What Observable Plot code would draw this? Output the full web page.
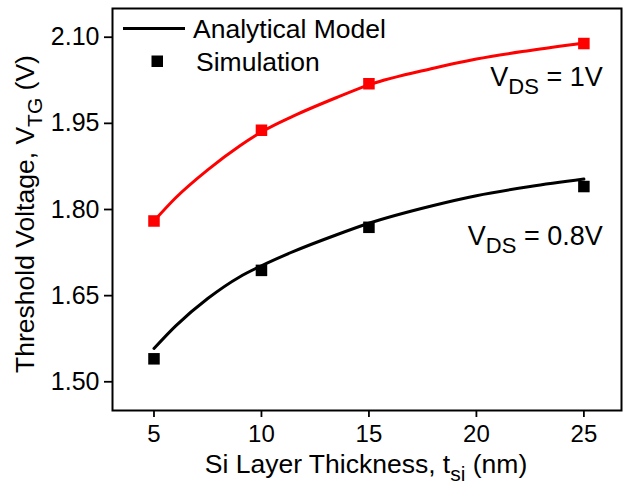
<!DOCTYPE html>
<html><head><meta charset="utf-8">
<script src="https://cdn.jsdelivr.net/npm/d3@7"></script>
<script src="https://cdn.jsdelivr.net/npm/@observablehq/plot@0.6"></script>
<style>
html,body{margin:0;padding:0;background:#fff;}
</style>
</head><body>
<div id="chart"></div>
<script>
// Simulation points
const simX = [5, 10, 15, 25];
const simV1 = [1.78, 1.938, 2.019, 2.089];      // VDS = 1V
const simV08 = [1.54, 1.694, 1.769, 1.840];     // VDS = 0.8V
// Analytical model curves
const modelX = [5, 6, 7.5, 9, 10, 11.5, 13.5, 15, 18, 20, 22.5, 25];
const modelV1 = [1.780, 1.820, 1.869, 1.911, 1.935, 1.963, 1.995, 2.017, 2.046, 2.062, 2.077, 2.090];
const modelV08 = [1.558, 1.597, 1.645, 1.683, 1.702, 1.727, 1.756, 1.776, 1.807, 1.824, 1.840, 1.853];
const xTicks = [5, 10, 15, 20, 25];
const yTicks = [1.50, 1.65, 1.80, 1.95, 2.10];
// annotations
const annotations = [
  {x: 25.9, y: 2.015, main: "V", sub: "DS", rest: " = 1V"},
  {x: 25.9, y: 1.737, main: "V", sub: "DS", rest: " = 0.8V"}
];

const curve1 = modelX.map((x, i) => ({x, y: modelV1[i]}));
const curve08 = modelX.map((x, i) => ({x, y: modelV08[i]}));
const pts1 = simX.map((x, i) => ({x, y: simV1[i]}));
const pts08 = simX.map((x, i) => ({x, y: simV08[i]}));

const font = "'Liberation Sans', Arial, Helvetica, sans-serif";

const plot = Plot.plot({
  width: 625, height: 489,
  marginLeft: 112, marginRight: 4, marginTop: 8, marginBottom: 79,
  style: {fontFamily: font, fontSize: "24px", color: "black", background: "white"},
  x: {domain: [3.07, 26.75]},
  y: {domain: [1.45, 2.15]},
  marks: [
    Plot.line(curve1, {x: "x", y: "y", stroke: "#ff0000", strokeWidth: 3, curve: "monotone-x"}),
    Plot.line(curve08, {x: "x", y: "y", stroke: "black", strokeWidth: 3, curve: "monotone-x"}),
    Plot.dot(pts1, {x: "x", y: "y", symbol: "square", r: 6.5, fill: "#ff0000", stroke: "none"}),
    Plot.dot(pts08, {x: "x", y: "y", symbol: "square", r: 6.5, fill: "black", stroke: "none"}),
    Plot.axisX({ticks: xTicks, tickSize: 7, tickPadding: 7, strokeWidth: 1.8, fontSize: 24, label: null, tickFormat: d => String(d)}),
    Plot.axisY({ticks: yTicks, tickSize: 8, tickPadding: 5, strokeWidth: 1.8, fontSize: 25, label: null, tickFormat: d3.format(".2f")}),
    Plot.frame({stroke: "black", strokeWidth: 2})
  ]
});
document.getElementById("chart").appendChild(plot);

const svg = d3.select(plot);
const sx = plot.scale("x"), sy = plot.scale("y");

function subText(g, x, y, main, sub, rest, size, subSize, shift, anchor) {
  const t = g.append("text").attr("x", x).attr("y", y)
    .attr("font-family", font).attr("font-size", size).attr("fill", "black")
    .attr("text-anchor", anchor);
  t.append("tspan").text(main);
  t.append("tspan").attr("font-size", subSize).attr("dy", shift).text(sub);
  t.append("tspan").attr("dy", -shift).text(rest);
  return t;
}

// annotations
annotations.forEach(a => {
  subText(svg, sx.apply(a.x), sy.apply(a.y), a.main, a.sub, a.rest, 27, 22, 8, "end");
});

// legend
svg.append("line").attr("x1", 123).attr("x2", 185).attr("y1", 28.5).attr("y2", 28.5)
  .attr("stroke", "black").attr("stroke-width", 3);
svg.append("text").attr("x", 193).attr("y", 38).attr("text-anchor", "start")
  .attr("font-family", font).attr("font-size", 26.5).attr("fill", "black").text("Analytical Model");
svg.append("rect").attr("x", 151.5).attr("y", 55.5).attr("width", 11.5).attr("height", 11.5).attr("fill", "black");
svg.append("text").attr("x", 196).attr("y", 70.5).attr("text-anchor", "start")
  .attr("font-family", font).attr("font-size", 26.5).attr("fill", "black").text("Simulation");

// axis titles
subText(svg, 366, 473, "Si Layer Thickness, t", "si", " (nm)", 26.5, 21, 8, "middle");
const yt = subText(svg, 0, 0, "Threshold Voltage, V", "TG", " (V)", 26.5, 21, 8, "middle");
yt.attr("transform", "translate(34,214) rotate(-90)");
</script>
</body></html>
